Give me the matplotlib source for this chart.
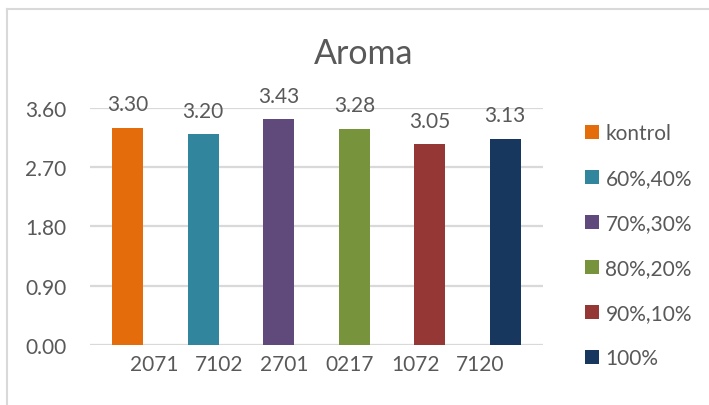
import matplotlib
matplotlib.use('Agg')
import matplotlib.pyplot as plt
from matplotlib.patches import Patch
from matplotlib.lines import Line2D
import numpy as np

plt.rcParams['font.family'] = ['Lato', 'DejaVu Sans']

# Aroma scores per formulation
series = ['kontrol', '60%,40%', '70%,30%', '80%,20%', '90%,10%', '100%']
scores = [3.30, 3.20, 3.43, 3.28, 3.05, 3.13]
codes = ['2071', '7102', '2701', '0217', '1072', '7120']
colors = ['#E46C0A', '#31859C', '#604A7B', '#77933C', '#953735', '#17375E']
yticks = [0.00, 0.90, 1.80, 2.70, 3.60]

text_gray = '#595959'
grid_gray = '#D9D9D9'
fs = 15

fig = plt.figure(figsize=(7.09, 4.06), dpi=100)
ax = fig.add_axes([0.1269, 0.1485, 0.639, 0.583])

x = np.arange(len(scores))
for i, (v, c) in enumerate(zip(scores, colors)):
    ax.bar(x[i], v, width=0.41, color=c, zorder=3)
    ax.annotate(f"{v:.2f}", (x[i], v), xytext=(0, 17), textcoords='offset points',
                ha='center', va='center', fontsize=fs, color=text_gray,
                annotation_clip=False)

ax.set_xlim(-0.5, len(scores) - 0.5)
ax.set_ylim(0, 3.6)
ax.set_yticks(yticks)
ax.set_yticklabels([f"{t:.2f}" for t in yticks])
ax.yaxis.grid(True, color=grid_gray, linewidth=1.6, zorder=0)

# category labels sit offset from the bars
ax.set_xticks(np.linspace(0.35, 4.67, len(codes)))
ax.set_xticklabels(codes)
ax.tick_params(axis='both', length=0, labelsize=fs, labelcolor=text_gray)
ax.tick_params(axis='x', pad=7)
ax.tick_params(axis='y', pad=17)
for s in ax.spines.values():
    s.set_visible(False)

fig.text(364 / 709, 1 - 54 / 406, 'Aroma', ha='center', va='center',
         fontsize=24.5, color=text_gray)

handles = [Patch(facecolor=c, edgecolor='none') for c in colors]
fig.legend(handles, series, loc='upper left', bbox_to_anchor=(585 / 709, 1 - 124 / 406),
           frameon=False, fontsize=fs, handlelength=0.68, handleheight=0.68,
           handletextpad=0.3, labelspacing=1.2, borderpad=0, borderaxespad=0,
           labelcolor=text_gray)

# chart area border (top and left edges)
fig.add_artist(Line2D([7.5 / 709, 1], [1 - 9.5 / 406] * 2, color=grid_gray, linewidth=1.5))
fig.add_artist(Line2D([7.5 / 709] * 2, [0, 1 - 9.5 / 406], color=grid_gray, linewidth=1.5))

fig.savefig('out.png', dpi=100)
